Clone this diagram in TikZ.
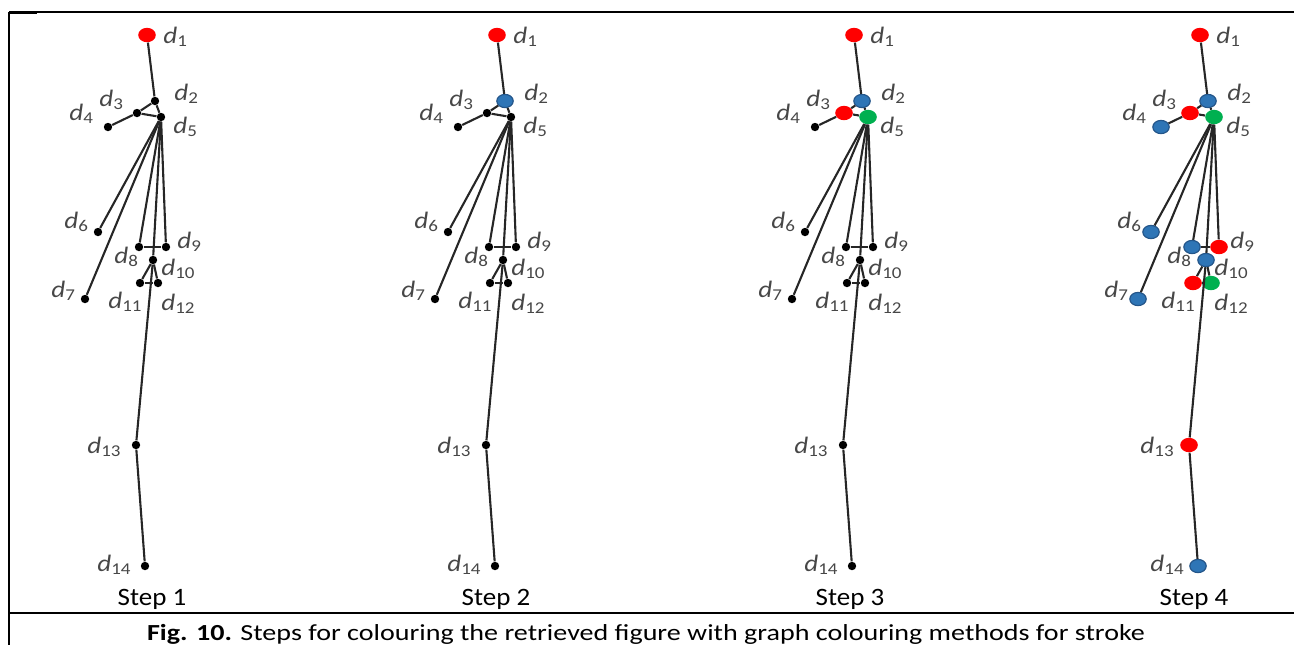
\documentclass[tikz,border=0pt]{standalone}
\usepackage{fontspec}
\setmainfont{Carlito}
\newfontfamily\labfont{Carlito}[FakeStretch=1.15]
\newfontfamily\stepfont{Carlito}[FakeStretch=1.08]
\newfontfamily\capfont{Carlito}[FakeStretch=1.22]
\usetikzlibrary{shapes.geometric}
\definecolor{vblueF}{RGB}{46,117,182}
\definecolor{vblueD}{RGB}{36,86,138}
\definecolor{vgreenF}{RGB}{0,176,80}
\newcommand\dlab[1]{{\itshape d}\textsubscript{#1}}
\newcommand\gstep[3]{%
\begin{scope}[shift={(#2,0)}]
\foreach \x/\y [count=\i] in {147/35,155/101,137/113,108/127,161/117,98/232,85/299,139/247,166/247,153/260,140/283,158/283,136/445,145/566}
  {\coordinate (#1p\i) at (\x,\y);}
\foreach \s [count=\i] in {#3}
  {\node[style=\s] (#1-\i) at (#1p\i) {};}
\foreach \u/\v in {1/2,2/3,3/4,3/5,2/5,5/6,5/7,5/8,5/9,5/10,8/9,10/11,10/12,11/12,10/13,13/14}
  {\draw[gline] (#1-\u) -- (#1-\v);}
\foreach \x/\y [count=\i] in {163/43,174/100,99/106,69/120,173/133,64/228,51/297,114/263,177/248,161/275,108/308,161/310,87/453,97/571}
  {\node[vlab] (#1l\i) at (\x,\y) {\dlab{\i}};}
\end{scope}}
\begin{document}
\begin{tikzpicture}[x=0.5pt,y=-0.5pt,
  vdot/.style={circle,fill=black,inner sep=0pt,minimum size=4.2pt},
  vred/.style={ellipse,fill=red,inner sep=0pt,minimum width=8.8pt,minimum height=7.2pt},
  vblue/.style={ellipse,fill=vblueF,draw=vblueD,line width=0.6pt,inner sep=0pt,minimum width=8.2pt,minimum height=6.6pt},
  vgreen/.style={ellipse,fill=vgreenF,inner sep=0pt,minimum width=8.8pt,minimum height=7.2pt},
  gline/.style={draw=black!85,line width=1.05pt},
  vlab/.style={anchor=base west,inner sep=0pt,text=black!72,font=\labfont\fontsize{11.8}{14}\selectfont},
  steplab/.style={anchor=base,inner sep=0pt,font=\stepfont\fontsize{12.5}{14}\selectfont},
  caplab/.style={anchor=base,inner sep=0pt,font=\capfont\fontsize{11.5}{13}\selectfont},
  frame/.style={draw=black,line width=1.2pt}]
\path[use as bounding box] (0,0) rectangle (1294,645);
% frame
\draw[line width=0.65pt] (9,12) -- (1294,12);
\draw[line width=1.5pt] (9,12.5) -- (37,12.5);
\draw[frame] (9,12) -- (9,645);
\draw[frame,line width=1.3pt] (9,613) -- (1294,613);
% graphs
\gstep{a}{0}{vred,vdot,vdot,vdot,vdot,vdot,vdot,vdot,vdot,vdot,vdot,vdot,vdot,vdot}
\gstep{b}{350}{vred,vblue,vdot,vdot,vdot,vdot,vdot,vdot,vdot,vdot,vdot,vdot,vdot,vdot}
\gstep{c}{707}{vred,vblue,vred,vdot,vgreen,vdot,vdot,vdot,vdot,vdot,vdot,vdot,vdot,vdot}
\gstep{e}{1053}{vred,vblue,vred,vblue,vgreen,vblue,vblue,vblue,vred,vblue,vred,vgreen,vred,vblue}
% step labels
\node[steplab] (s1) at (152,605) {Step 1};
\node[steplab] (s2) at (496,605) {Step 2};
\node[steplab] (s3) at (850,605) {Step 3};
\node[steplab] (s4) at (1194,605) {Step 4};
\node[caplab] (cap) at (646,640) {\textbf{Fig. 10.} Steps for colouring the retrieved figure with graph colouring methods for stroke};
\end{tikzpicture}
\end{document}
